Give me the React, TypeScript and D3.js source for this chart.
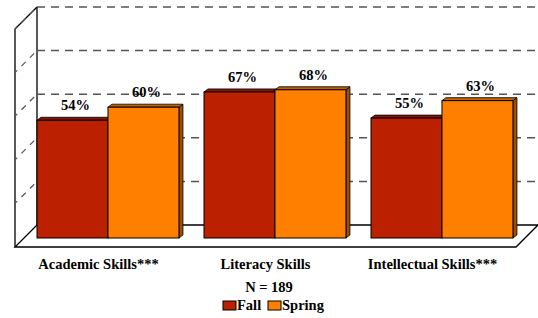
import React, { useEffect, useRef } from "react";
import * as d3 from "d3";

const categories = ["Academic Skills***", "Literacy Skills", "Intellectual Skills***"];
const seriesNames = ["Fall", "Spring"];
const fallValues = [54, 67, 55];
const springValues = [60, 68, 63];
const gridTicks = [0, 20, 40, 60, 80, 100];
const sampleNote = "N = 189";

const front = ["#BB2000", "#FF8000"];
const topFace = ["#8A1500", "#C46000"];
const sideFace = ["#7A1200", "#A04E00"];

export default function App() {
  const ref = useRef<SVGSVGElement>(null);

  useEffect(() => {
    draw();
  }, []);

  const draw = () => {
    const svg = d3.select(ref.current);
    svg.selectAll("*").remove();

    const depth = 22;
    const wallLeft = 37;
    const wallRight = 538;
    const font = "'Times New Roman', 'Liberation Serif', 'DejaVu Serif', serif";

    // back wall scale and bar scale (bars sit in front of the wall)
    const y = d3.scaleLinear().domain([0, 100]).range([225, 7]);
    const yBar = d3.scaleLinear().domain([0, 100]).range([238, 20]);
    const x = d3.scaleBand().domain(categories).range([wallLeft, wallRight]);
    const xSub = d3
      .scaleBand()
      .domain(seriesNames)
      .range([0, x.bandwidth() * 0.85]);
    const xLabel = d3
      .scaleBand()
      .domain(categories)
      .range([wallLeft - depth, wallRight - depth]);

    const g = svg
      .append("g")
      .style("font-family", font)
      .style("font-weight", "700")
      .style("font-size", "14.5px");

    // side wall
    g.append("path")
      .attr("d", `M${wallLeft},${y(100)} L${wallLeft - depth},${y(100) + depth} L${wallLeft - depth},${y(0) + depth}`)
      .attr("fill", "none")
      .attr("stroke", "#000")
      .attr("stroke-width", 1.3);
    g.append("line")
      .attr("x1", wallLeft)
      .attr("x2", wallLeft)
      .attr("y1", y(100))
      .attr("y2", y(0))
      .attr("stroke", "#000")
      .attr("stroke-width", 1.3);

    // floor
    g.append("path")
      .attr(
        "d",
        `M${wallLeft},${y(0)} L${wallLeft - depth},${y(0) + depth} L${wallRight - depth},${y(0) + depth} L${wallRight},${y(0)} Z`
      )
      .attr("fill", "#fff")
      .attr("stroke", "#000")
      .attr("stroke-width", 1.3);

    // gridlines on back wall and side wall
    gridTicks
      .filter((t) => t > 0)
      .forEach((t) => {
        g.append("line")
          .attr("x1", wallLeft)
          .attr("x2", wallRight)
          .attr("y1", y(t))
          .attr("y2", y(t))
          .attr("stroke", "#555")
          .attr("stroke-width", 1.5)
          .attr("stroke-dasharray", "8,6");
        g.append("line")
          .attr("x1", wallLeft)
          .attr("x2", wallLeft - depth)
          .attr("y1", y(t))
          .attr("y2", y(t) + depth)
          .attr("stroke", "#555")
          .attr("stroke-width", 1.2)
          .attr("stroke-dasharray", "6,6")
          .attr("stroke-dashoffset", -4);
      });

    // bars
    const bd = 4;
    const bdy = 3;
    const rows = categories.map((c, i) => ({
      cat: c,
      vals: [fallValues[i], springValues[i]],
    }));

    rows.forEach((r) => {
      r.vals.forEach((v, si) => {
        const name = seriesNames[si];
        const x0 = (x(r.cat) as number) + (xSub(name) as number);
        const w = xSub.bandwidth();
        const y0 = yBar(v);
        const yb = yBar(0);
        // side face
        g.append("path")
          .attr("d", `M${x0 + w},${y0} L${x0 + w + bd},${y0 - bdy} L${x0 + w + bd},${yb - bdy} L${x0 + w},${yb} Z`)
          .attr("fill", sideFace[si])
          .attr("stroke", "#000")
          .attr("stroke-width", 0.8);
        // top face
        g.append("path")
          .attr("d", `M${x0},${y0} L${x0 + bd},${y0 - bdy} L${x0 + w + bd},${y0 - bdy} L${x0 + w},${y0} Z`)
          .attr("fill", topFace[si])
          .attr("stroke", "#000")
          .attr("stroke-width", 0.8);
        // front
        g.append("rect")
          .attr("x", x0)
          .attr("y", y0)
          .attr("width", w)
          .attr("height", yb - y0)
          .attr("fill", front[si])
          .attr("stroke", "#000")
          .attr("stroke-width", 1);
        // value label
        g.append("text")
          .attr("x", x0 + w / 2 + 3)
          .attr("y", y0 - 10)
          .attr("text-anchor", "middle")
          .text(`${v}%`);
      });
    });

    // category labels
    categories.forEach((c) => {
      g.append("text")
        .attr("x", (xLabel(c) as number) + xLabel.bandwidth() / 2)
        .attr("y", 269)
        .attr("text-anchor", "middle")
        .text(c);
    });

    g.append("text")
      .attr("x", 269)
      .attr("y", 292)
      .attr("text-anchor", "middle")
      .text(sampleNote);

    // legend
    const legendX = [223, 268];
    seriesNames.forEach((s, i) => {
      g.append("rect")
        .attr("x", legendX[i])
        .attr("y", 301)
        .attr("width", 13)
        .attr("height", 9)
        .attr("fill", front[i])
        .attr("stroke", "#000")
        .attr("stroke-width", 1);
      g.append("text")
        .attr("x", legendX[i] + 14)
        .attr("y", 310)
        .text(s);
    });
  };

  return (
    <svg
      ref={ref}
      width={538}
      height={318}
      style={{ position: "absolute", left: 0, top: 0, background: "#fff" }}
    />
  );
}
